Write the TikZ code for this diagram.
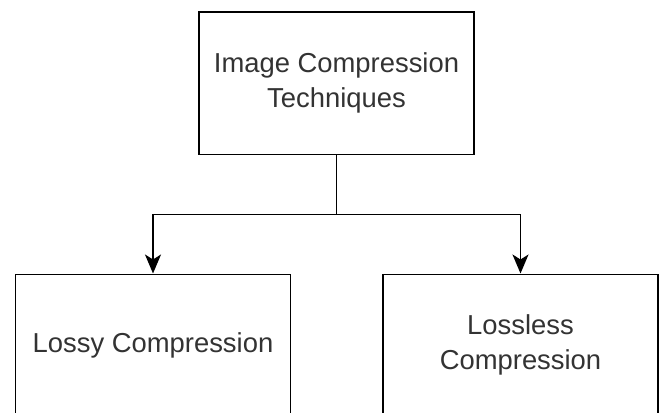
\documentclass[tikz,border=0pt]{standalone}
\usepackage{fontspec}
\setmainfont{Liberation Sans}
\usetikzlibrary{arrows.meta}
\definecolor{txt}{HTML}{333333}
\tikzset{
  box/.style={draw=black, line width=1.6pt, fill=white, minimum width=275pt, minimum height=142pt,
    inner sep=0pt, align=center, text=txt, font=\fontsize{27.4}{35}\selectfont},
  link/.style={line width=1.6pt, -{Stealth[length=19pt,width=16pt,inset=5pt]}}
}
\begin{document}
\begin{tikzpicture}[x=1pt,y=-1pt]
  \useasboundingbox (0,0) rectangle (668,412);
  \node[box] (root)     at (336.5,83.3) {Image Compression\\Techniques};
  \node[box] (lossy)    at (153,345.3) {Lossy Compression};
  \node[box] (lossless) at (520.5,345.3) {Lossless\\Compression};
  \coordinate (split) at (336.5,214.3);
  \draw[link] (root.south) -- (split) -| (lossy.north);
  \draw[link] (split) -| (lossless.north);
\end{tikzpicture}
\end{document}
